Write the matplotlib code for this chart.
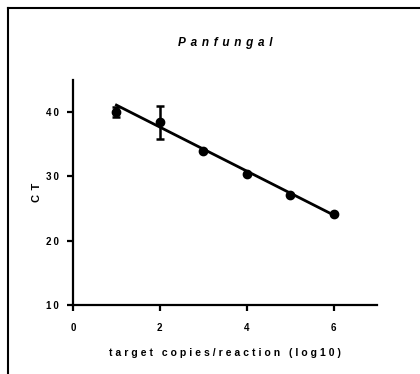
import matplotlib
matplotlib.use("Agg")
import matplotlib.pyplot as plt
import numpy as np

plt.rcParams['font.family'] = ['Liberation Sans', 'DejaVu Sans']

log_copies = [1, 2, 3, 4, 5, 6]
ct_mean = [40.0, 38.4, 34.0, 30.4, 27.1, 24.1]
ct_err = [0.8, 2.5, 0.0, 0.0, 0.0, 0.0]
fit_x = [1, 6]
fit_y = [41.1, 24.0]
x_ticks = [0, 2, 4, 6]
y_ticks = [10, 20, 30, 40]

def sp(s, gap='\u2009'):
    return gap.join(s)

fig = plt.figure(figsize=(4.2, 3.74), dpi=100)
ax = fig.add_axes([0.1738, 0.1845, 0.7238, 0.6015])

xs = np.array(log_copies, dtype=float)
ys = np.array(ct_mean)
es = np.array(ct_err)
m = es > 0
ax.errorbar(xs[m], ys[m], yerr=es[m], fmt='none', ecolor='black',
            elinewidth=1.8, capsize=3.2, capthick=1.8, zorder=3)
ax.plot(xs, ys, 'o', color='black', markersize=6, zorder=4)
ax.plot(fit_x, fit_y, color='black', lw=2, zorder=2)

ax.set_xlim(0, 7)
ax.set_ylim(10, 45)
ax.set_xticks(x_ticks)
ax.set_yticks(y_ticks)
ax.set_xticklabels([sp(str(t)) for t in x_ticks], fontsize=7, fontweight='bold')
ax.set_yticklabels([sp(str(t)) for t in y_ticks], fontsize=7, fontweight='bold')
for s in ['top', 'right']:
    ax.spines[s].set_visible(False)
for s in ['left', 'bottom']:
    ax.spines[s].set_linewidth(1.6)
ax.tick_params(width=1.6, length=4)
ax.tick_params(axis='x', pad=9)
ax.tick_params(axis='y', pad=6)

ax.set_xlabel(sp('target copies/reaction (log10)', '\u2009\u200a'), fontsize=7.5,
              fontweight='bold', labelpad=11)
ax.set_ylabel(sp('CT', '\u2009\u2009'), fontsize=8, fontweight='bold', labelpad=3)
fig.text(0.536, 0.885, sp('Panfungal', '\u2009\u2009'), fontsize=8.5, fontweight='bold',
         style='italic', ha='center', va='center')

# outer frame lines (top and left)
fig.add_artist(plt.Line2D([0.018, 1.0], [0.978, 0.978], color='black', lw=1.5,
                          transform=fig.transFigure))
fig.add_artist(plt.Line2D([0.018, 0.018], [0.0, 0.978], color='black', lw=1.5,
                          transform=fig.transFigure))

fig.savefig('out.png', dpi=100)
